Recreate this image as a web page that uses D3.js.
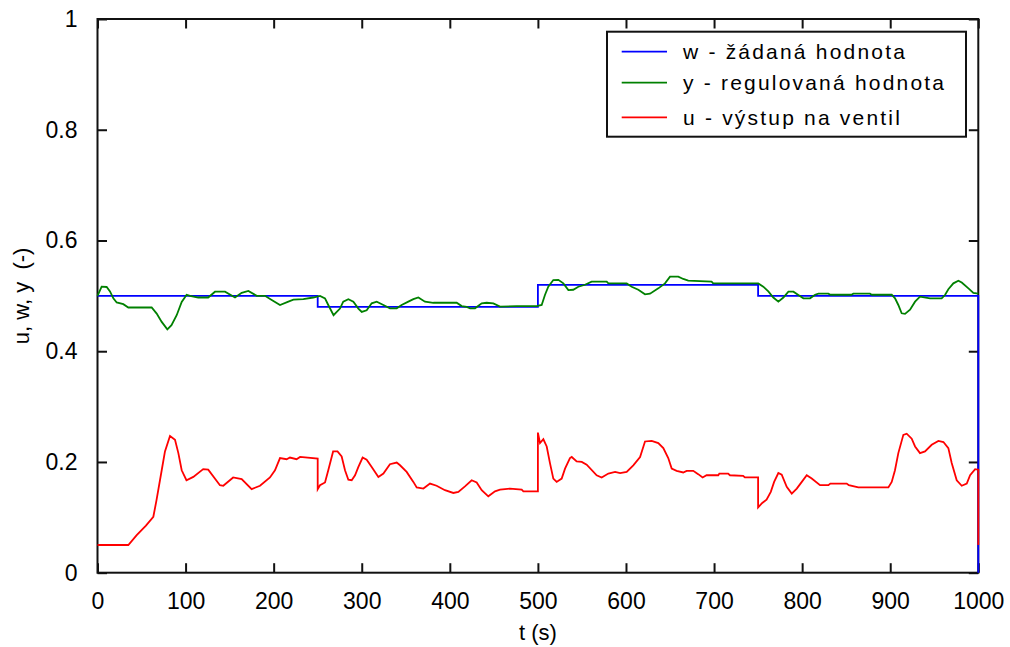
<!DOCTYPE html>
<html>
<head>
<meta charset="utf-8">
<script src="https://cdn.jsdelivr.net/npm/d3@7"></script>
<style>
  html, body { margin: 0; padding: 0; background: #fff; }
  svg { display: block; }
  text { font-family: "Liberation Sans", Arial, sans-serif; fill: #000; }
</style>
</head>
<body>
<svg id="chart" width="1010" height="647"></svg>
<script>
// Setpoint w (step changes)
const wT = [0, 250, 500, 750, 1000, 1000];
const wV = [0.5, 0.48, 0.52, 0.5, 0.5, 0];

// Controlled value y
const yT = [0, 4.7, 10.4, 14.2, 18, 21.8, 29.3, 35, 61.5, 67.2, 72.9, 79.3, 84, 89.9, 95.6, 101.2, 105, 114.4, 125.7, 133.4, 144.8, 156.1, 163.7, 171.3, 180.8, 190.2, 197.8, 207.2, 216.7, 222.4, 233.7, 245, 252.6, 258.3, 262, 268, 275.3, 279, 284.8, 290.5, 296.2, 300, 305.6, 311.3, 317, 324.6, 332, 339.7, 345.3, 352.9, 358.6, 364.3, 371.8, 381.3, 407.8, 413.5, 419.2, 423, 428.6, 436.2, 441.9, 449.4, 457, 475.9, 498.6, 504.3, 508, 511.8, 517.5, 523.2, 528.9, 534.6, 540.2, 545.9, 553.5, 561, 578.1, 580, 600.8, 606.5, 614, 621.6, 627.3, 636.7, 644.3, 650, 659.4, 665, 670.7, 697.2, 699, 750.2, 755.9, 761.6, 767.3, 773, 778.7, 784.4, 790.1, 795.7, 801.4, 809, 814.7, 818.5, 829.8, 832, 856, 858.1, 877, 879, 901.7, 905.5, 909.2, 913, 916.8, 922.5, 928.2, 933.8, 945.2, 958.4, 962.2, 966, 971.7, 977.4, 981.2, 988.8, 994.4, 1000];
const yV = [0.5, 0.5165, 0.516, 0.508, 0.4955, 0.488, 0.485, 0.479, 0.479, 0.468, 0.453, 0.4395, 0.447, 0.465, 0.489, 0.502, 0.5, 0.497, 0.497, 0.5075, 0.5075, 0.497, 0.5055, 0.509, 0.5, 0.5, 0.4925, 0.4835, 0.4895, 0.493, 0.494, 0.497, 0.5, 0.4955, 0.4835, 0.465, 0.477, 0.4895, 0.494, 0.4895, 0.477, 0.471, 0.474, 0.4865, 0.4895, 0.4835, 0.4775, 0.4775, 0.4835, 0.4895, 0.494, 0.497, 0.4895, 0.4875, 0.4875, 0.4815, 0.48, 0.4775, 0.4775, 0.4865, 0.4875, 0.4865, 0.4805, 0.4815, 0.4815, 0.4835, 0.5015, 0.5165, 0.5286, 0.529, 0.5225, 0.5105, 0.511, 0.5165, 0.52, 0.5256, 0.5256, 0.5225, 0.5225, 0.5165, 0.511, 0.5028, 0.504, 0.5135, 0.5225, 0.5346, 0.5346, 0.5305, 0.5274, 0.5256, 0.5225, 0.5225, 0.5165, 0.508, 0.497, 0.4895, 0.497, 0.5075, 0.5075, 0.5015, 0.4955, 0.4955, 0.502, 0.504, 0.504, 0.502, 0.502, 0.504, 0.504, 0.502, 0.502, 0.4955, 0.4835, 0.4685, 0.4675, 0.475, 0.4895, 0.4985, 0.4955, 0.4955, 0.5015, 0.512, 0.5226, 0.5274, 0.524, 0.5135, 0.5055, 0.504];

// Valve output u
const uT = [0, 35, 44.5, 55, 63.4, 67, 72.9, 76.6, 82.3, 88, 91.8, 95.6, 101, 108.8, 120, 125.7, 139, 142.8, 154, 163.7, 175, 184.5, 195.8, 201.5, 207.2, 214.7, 218.5, 226, 230, 250, 250, 252.6, 258.3, 262, 267.5, 272.5, 277.2, 281, 284.8, 288.6, 292.4, 296.2, 301, 305.6, 311.3, 318.9, 324.6, 332, 339.7, 343.5, 351, 358.6, 362.4, 370, 377.5, 385, 394.5, 404, 409.7, 417.2, 424.8, 430.5, 436.2, 443.7, 451.3, 457, 468.3, 481.6, 483.5, 500, 500, 502.4, 506.2, 510, 513.7, 517.5, 521.3, 527, 530.8, 536.4, 538.4, 544, 549.8, 555.4, 566.7, 572.4, 580, 587.6, 593.3, 600.8, 608.3, 616, 621.6, 629.2, 636.7, 642.4, 648, 651.9, 657.5, 665, 668.9, 676.4, 682, 687, 691.5, 704.8, 706, 716, 718, 733, 735, 750, 750, 754.7, 759.6, 764.4, 768.2, 773, 776.8, 782.5, 788.2, 793.9, 799.6, 805.2, 810.9, 820.3, 829.8, 832, 850.6, 853, 863.8, 897.9, 901.7, 905.4, 909.2, 914.9, 918.7, 924.4, 928.2, 933.8, 939.5, 947.1, 954.7, 960.4, 966, 969.8, 975.5, 981.2, 986.9, 990.7, 996.4, 1000, 1000];
const uV = [0.05, 0.05, 0.068, 0.085, 0.101, 0.131, 0.185, 0.219, 0.247, 0.24, 0.216, 0.185, 0.167, 0.173, 0.187, 0.186, 0.158, 0.157, 0.172, 0.169, 0.151, 0.157, 0.172, 0.185, 0.207, 0.205, 0.208, 0.205, 0.209, 0.206, 0.151, 0.158, 0.163, 0.185, 0.219, 0.219, 0.21, 0.185, 0.168, 0.167, 0.176, 0.191, 0.208, 0.204, 0.191, 0.173, 0.179, 0.196, 0.199, 0.194, 0.182, 0.164, 0.154, 0.152, 0.161, 0.157, 0.149, 0.144, 0.146, 0.156, 0.167, 0.163, 0.149, 0.138, 0.147, 0.15, 0.152, 0.15, 0.147, 0.147, 0.253, 0.234, 0.241, 0.228, 0.198, 0.17, 0.164, 0.17, 0.188, 0.207, 0.209, 0.201, 0.2, 0.195, 0.176, 0.172, 0.179, 0.182, 0.18, 0.182, 0.194, 0.209, 0.237, 0.238, 0.234, 0.225, 0.207, 0.188, 0.184, 0.181, 0.184, 0.184, 0.178, 0.172, 0.176, 0.176, 0.179, 0.179, 0.176, 0.175, 0.172, 0.172, 0.118, 0.126, 0.132, 0.146, 0.164, 0.18, 0.177, 0.155, 0.143, 0.152, 0.164, 0.176, 0.17, 0.158, 0.158, 0.161, 0.161, 0.158, 0.154, 0.154, 0.164, 0.185, 0.216, 0.249, 0.251, 0.242, 0.228, 0.216, 0.219, 0.231, 0.238, 0.236, 0.225, 0.198, 0.167, 0.157, 0.161, 0.176, 0.187, 0.186, 0.05];

const xTicks = [0, 100, 200, 300, 400, 500, 600, 700, 800, 900, 1000];
const yTicks = [0, 0.2, 0.4, 0.6, 0.8, 1];
const yTickLabels = ["0", "0.2", "0.4", "0.6", "0.8", "1"];

const seriesNames = ["w - žádaná hodnota", "y - regulovaná hodnota", "u - výstup na ventil"];
const seriesColors = ["#0000ff", "#008000", "#ff0000"];

const W = 1010, H = 647;
const margin = { left: 97.5, right: 31.7, top: 19, bottom: 74.3 };

const svg = d3.select("#chart");
const x = d3.scaleLinear().domain([0, 1000]).range([margin.left, W - margin.right]);
const y = d3.scaleLinear().domain([0, 1]).range([H - margin.bottom, margin.top]);

const tickLen = 9.5;
const axisColor = "#111";

// Axes box with inward ticks on all four sides
const frame = svg.append("g");
frame.append("rect")
  .attr("x", x(0)).attr("y", y(1))
  .attr("width", x(1000) - x(0)).attr("height", y(0) - y(1))
  .attr("fill", "none").attr("stroke", axisColor).attr("stroke-width", 2);

function styleAxis(g) {
  g.select(".domain").remove();
  g.selectAll(".tick line").attr("stroke", axisColor).attr("stroke-width", 2);
  g.selectAll(".tick text").style("font-family", '"Liberation Sans", Arial, sans-serif')
    .style("font-size", "23px").attr("fill", "#000");
}

svg.append("g").attr("transform", `translate(0,${y(0)})`)
  .call(d3.axisBottom(x).tickValues(xTicks).tickSizeInner(-tickLen).tickSizeOuter(0).tickPadding(20).tickFormat(d3.format("d")))
  .call(styleAxis);
svg.append("g").attr("transform", `translate(0,${y(1)})`)
  .call(d3.axisTop(x).tickValues(xTicks).tickSizeInner(-tickLen).tickSizeOuter(0).tickFormat(""))
  .call(styleAxis);
svg.append("g").attr("transform", `translate(${x(0)},0)`)
  .call(d3.axisLeft(y).tickValues(yTicks).tickSizeInner(-tickLen).tickSizeOuter(0).tickPadding(20)
    .tickFormat((d, i) => yTickLabels[i]))
  .call(styleAxis);
svg.append("g").attr("transform", `translate(${x(1000)},0)`)
  .call(d3.axisRight(y).tickValues(yTicks).tickSizeInner(-tickLen).tickSizeOuter(0).tickFormat(""))
  .call(styleAxis);

// Axis titles
svg.append("text")
  .attr("x", (x(0) + x(1000)) / 2).attr("y", 640)
  .attr("text-anchor", "middle").style("font-size", "22px")
  .text("t (s)");
svg.append("text")
  .attr("transform", `translate(29,${(y(0) + y(1)) / 2}) rotate(-90)`)
  .attr("text-anchor", "middle").style("font-size", "22px")
  .attr("xml:space", "preserve")
  .text("u, w, y  (-)");

// Series lines
const zip = (ts, vs) => ts.map((t, i) => [t, vs[i]]);
const line = d3.line().x(d => x(d[0])).y(d => y(d[1]));
const stepLine = d3.line().x(d => x(d[0])).y(d => y(d[1])).curve(d3.curveStepAfter);

const plot = svg.append("g").attr("fill", "none").attr("stroke-width", 1.8).attr("stroke-linejoin", "miter");
plot.append("path").attr("d", stepLine(zip(wT, wV))).attr("stroke", seriesColors[0]);
plot.append("path").attr("d", line(zip(yT, yV))).attr("stroke", seriesColors[1]);
plot.append("path").attr("d", line(zip(uT, uV))).attr("stroke", seriesColors[2]);

// Legend
const lg = svg.append("g");
lg.append("rect")
  .attr("x", 607).attr("y", 31.7).attr("width", 359).attr("height", 105)
  .attr("fill", "#fff").attr("stroke", axisColor).attr("stroke-width", 2);
const rowY = [51.7, 82.7, 117.3];
seriesNames.forEach((name, i) => {
  lg.append("line")
    .attr("x1", 621.7).attr("x2", 667).attr("y1", rowY[i]).attr("y2", rowY[i])
    .attr("stroke", seriesColors[i]).attr("stroke-width", 1.8);
  lg.append("text")
    .attr("x", 683).attr("y", rowY[i] + 7.5)
    .style("font-size", "21px").style("letter-spacing", "2.2px")
    .text(name);
});
</script>
</body>
</html>
